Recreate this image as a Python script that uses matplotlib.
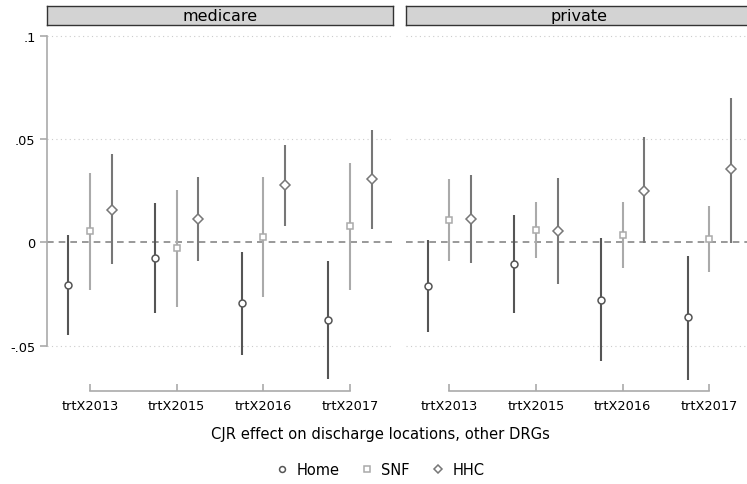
import matplotlib
matplotlib.use("Agg")
import matplotlib.pyplot as plt
from matplotlib.lines import Line2D
import numpy as np

panels = ["medicare", "private"]
terms = ["trtX2013", "trtX2015", "trtX2016", "trtX2017"]
series = ["Home", "SNF", "HHC"]

# medicare
med_home = [-0.0207, -0.0076, -0.0295, -0.0378]
med_home_lo = [-0.0449, -0.0341, -0.0544, -0.0663]
med_home_hi = [0.0035, 0.0189, -0.0047, -0.0092]
med_snf = [0.0053, -0.0029, 0.0026, 0.0079]
med_snf_lo = [-0.0229, -0.0315, -0.0263, -0.0229]
med_snf_hi = [0.0335, 0.0253, 0.0315, 0.0385]
med_hhc = [0.0158, 0.0113, 0.0276, 0.0306]
med_hhc_lo = [-0.0105, -0.0090, 0.0080, 0.0064]
med_hhc_hi = [0.0426, 0.0316, 0.0472, 0.0543]

# private
pri_home = [-0.0211, -0.0105, -0.0278, -0.0363]
pri_home_lo = [-0.0432, -0.0344, -0.0576, -0.0665]
pri_home_hi = [0.0013, 0.0132, 0.0022, -0.0065]
pri_snf = [0.0106, 0.0060, 0.0035, 0.0018]
pri_snf_lo = [-0.0092, -0.0075, -0.0126, -0.0142]
pri_snf_hi = [0.0305, 0.0194, 0.0197, 0.0174]
pri_hhc = [0.0111, 0.0055, 0.0250, 0.0356]
pri_hhc_lo = [-0.0102, -0.0202, -0.0005, -0.0005]
pri_hhc_hi = [0.0326, 0.0310, 0.0510, 0.0700]

data = {
    "medicare": [(med_home, med_home_lo, med_home_hi),
                 (med_snf, med_snf_lo, med_snf_hi),
                 (med_hhc, med_hhc_lo, med_hhc_hi)],
    "private": [(pri_home, pri_home_lo, pri_home_hi),
                (pri_snf, pri_snf_lo, pri_snf_hi),
                (pri_hhc, pri_hhc_lo, pri_hhc_hi)],
}

colors = ["#555555", "#aaaaaa", "#777777"]
markers = ["o", "s", "D"]
msizes = [5.0, 5.0, 4.6]
offsets = [-0.25, 0.0, 0.25]

W, H = 747, 485
fig = plt.figure(figsize=(W / 100, H / 100), dpi=100)

ax_w = 346.6 / W
ax_bottom = (H - 392) / H
ax_h = (392 - 27) / H
lefts = [46.7 / W, 406 / W]

ymin, ymax = -0.072, 0.1047
x = np.arange(1, len(terms) + 1)

for pi, (panel, left) in enumerate(zip(panels, lefts)):
    ax = fig.add_axes([left, ax_bottom, ax_w, ax_h])
    ax.set_xlim(0.5, 4.5)
    ax.set_ylim(ymin, ymax)
    for g in [0.1, 0.05, -0.05]:
        ax.axhline(g, color="#cccccc", lw=0.8, ls=(0, (1, 3)), zorder=0)
    ax.axhline(0, color="#888888", lw=1.2, ls=(0, (4, 3)), zorder=1)
    for si, (pt, lo, hi) in enumerate(data[panel]):
        xs = x + offsets[si]
        ax.vlines(xs, lo, hi, color=colors[si], lw=1.5, zorder=2)
        ax.plot(xs, pt, ls="none", marker=markers[si], ms=msizes[si],
                mfc="white", mec=colors[si], mew=1.1, zorder=3)
    for s in ["top", "right"]:
        ax.spines[s].set_visible(False)
    ax.spines["bottom"].set_bounds(1, 4)
    ax.spines["bottom"].set_color("#aaaaaa")
    ax.spines["bottom"].set_linewidth(1.2)
    ax.set_xticks(x)
    ax.set_xticklabels(terms, fontsize=9.3)
    ax.tick_params(axis="x", direction="in", length=5, color="#aaaaaa",
                   width=1.2, pad=6)
    if pi == 0:
        ax.spines["left"].set_bounds(-0.05, 0.1)
        ax.spines["left"].set_color("#aaaaaa")
        ax.spines["left"].set_linewidth(1.2)
        ax.set_yticks([-0.05, 0, 0.05, 0.1])
        ax.set_yticklabels(["-.05", "0", ".05", ".1"], fontsize=9.3)
        ax.tick_params(axis="y", direction="out", length=5, color="#aaaaaa",
                       width=1.2, pad=3)
    else:
        ax.spines["left"].set_visible(False)
        ax.set_yticks([])
    # strip
    sax = fig.add_axes([left, (H - 26) / H, ax_w, 19 / H])
    sax.set_xticks([])
    sax.set_yticks([])
    sax.set_facecolor("#d3d3d3")
    for s in sax.spines.values():
        s.set_color("#333333")
        s.set_linewidth(1.0)
    sax.text(0.5, 0.5, panel, ha="center", va="center", fontsize=11.5,
             transform=sax.transAxes)

fig.text(380 / W, 1 - 434 / H, "CJR effect on discharge locations, other DRGs",
         ha="center", va="center", fontsize=10.6)

handles = [Line2D([], [], ls="none", marker=markers[i], ms=msizes[i] * 0.85,
                  mfc="white", mec=colors[i], mew=1.1) for i in range(3)]
leg = fig.legend(handles, series, loc="center", bbox_to_anchor=(380 / W, 1 - 471 / H),
                 ncol=3, frameon=False, fontsize=10.5, handlelength=0.8,
                 handletextpad=0.6, columnspacing=1.5)

fig.savefig("out.png", dpi=100)
